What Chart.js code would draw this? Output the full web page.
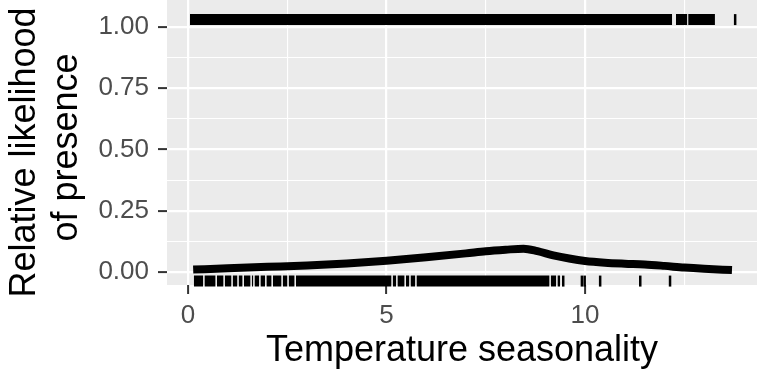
<!DOCTYPE html>
<html>
<head>
<meta charset="utf-8">
<script src="https://cdn.jsdelivr.net/npm/chart.js@4"></script>
<style>
  html, body { margin: 0; padding: 0; background: #ffffff; }
  #wrap { width: 757px; height: 383px; position: relative; }
</style>
</head>
<body>
<div id="wrap"><canvas id="myChart"></canvas></div>
<script>
// fitted response curve
const curveX = [0.13, 1, 2, 3, 4, 5, 6, 7, 7.5, 8, 8.45, 8.8, 9.2, 9.6, 10, 10.5, 11, 11.5, 12, 12.5, 13, 13.7];
const curveY = [0.010, 0.015, 0.021, 0.027, 0.035, 0.046, 0.060, 0.076, 0.085, 0.091, 0.095, 0.085, 0.068, 0.055, 0.045, 0.038, 0.034, 0.031, 0.025, 0.018, 0.013, 0.008];

// presence records (top rug) and background records (bottom rug)
const presenceRuns = [[0.05, 12.19], [12.29, 12.57], [12.60, 13.27]];
const presenceTicks = [13.78];
const backgroundRuns = [
    [0.15, 0.38], [0.42, 0.69], [0.73, 0.89], [0.93, 1.09], [1.13, 1.24], [1.28, 1.37],
    [1.41, 1.57], [1.61, 1.64], [1.68, 1.79], [1.83, 1.94], [1.98, 2.10], [2.14, 2.35],
    [2.39, 2.50], [2.54, 2.68], [2.72, 5.12], [5.16, 5.24], [5.28, 5.45], [5.49, 5.57],
    [5.61, 5.72], [5.76, 9.10], [9.14, 9.27], [9.31, 9.37]
];
const backgroundTicks = [9.45, 9.92, 9.99, 10.38, 11.39, 12.14];
const presenceLevel = 1.03;
const backgroundLevel = -0.037;

// axes
const xMajor = [0, 5, 10];
const xMajorLabels = ['0', '5', '10'];
const xMinor = [2.5, 7.5, 12.5];
const yMajor = [0, 0.25, 0.5, 0.75, 1];
const yMajorLabels = ['0.00', '0.25', '0.50', '0.75', '1.00'];
const yMinor = [0.125, 0.375, 0.625, 0.875];

function runsToData(runs, level) {
    return runs.flatMap(r => [{x: r[0], y: level}, {x: r[1], y: level}, {x: r[1], y: null}]);
}

function setTicks(majors, minors) {
    return function(scale) {
        scale.ticks = majors.concat(minors).sort((a, b) => a - b).map(v => ({value: v}));
    };
}

function noPadding(scale) {
    scale.paddingTop = 0;
    scale.paddingBottom = 0;
    scale.paddingLeft = 0;
    scale.paddingRight = 0;
}

const panelBg = {
    id: 'panelBg',
    beforeDraw(chart) {
        const {ctx, chartArea: a} = chart;
        ctx.save();
        ctx.fillStyle = '#ffffff';
        ctx.fillRect(0, 0, chart.width, chart.height);
        ctx.fillStyle = '#EBEBEB';
        ctx.fillRect(a.left, a.top, a.right - a.left, a.bottom - a.top);
        ctx.restore();
    }
};

const fontFam = "'Liberation Sans', Arial, sans-serif";

const ctx = document.getElementById('myChart');
new Chart(ctx, {
    type: 'scatter',
    data: {
        datasets: [
            {
                type: 'line',
                data: runsToData(presenceRuns, presenceLevel),
                borderColor: '#000',
                borderWidth: 11,
                borderCapStyle: 'butt',
                pointRadius: 0,
                spanGaps: false,
                clip: false
            },
            {
                data: presenceTicks.map(x => ({x: x, y: presenceLevel})),
                pointStyle: 'line',
                rotation: 90,
                radius: 5.5,
                borderWidth: 2.5,
                borderColor: '#000',
                clip: false
            },
            {
                type: 'line',
                data: runsToData(backgroundRuns, backgroundLevel),
                borderColor: '#000',
                borderWidth: 11,
                borderCapStyle: 'butt',
                pointRadius: 0,
                spanGaps: false,
                clip: false
            },
            {
                data: backgroundTicks.map(x => ({x: x, y: backgroundLevel})),
                pointStyle: 'line',
                rotation: 90,
                radius: 5.5,
                borderWidth: 2.5,
                borderColor: '#000',
                clip: false
            },
            {
                type: 'line',
                data: curveX.map((x, i) => ({x: x, y: curveY[i]})),
                borderColor: '#000',
                borderWidth: 8,
                borderCapStyle: 'butt',
                cubicInterpolationMode: 'monotone',
                pointRadius: 0
            }
        ]
    },
    options: {
        responsive: true,
        maintainAspectRatio: false,
        animation: false,
        layout: { padding: 0, autoPadding: false },
        plugins: {
            legend: { display: false },
            tooltip: { enabled: false }
        },
        scales: {
            x: {
                type: 'linear',
                min: -0.529,
                max: 14.33,
                afterBuildTicks: setTicks(xMajor, xMinor),
                afterFit: function(scale) { scale.height = 98; noPadding(scale); },
                border: { display: false },
                grid: {
                    color: '#ffffff',
                    lineWidth: c => xMajor.includes(c.tick.value) ? 2.2 : 1.1,
                    tickColor: c => xMajor.includes(c.tick.value) ? '#333333' : 'rgba(0,0,0,0)',
                    tickLength: 9,
                    tickWidth: 2
                },
                ticks: {
                    autoSkip: false,
                    maxRotation: 0,
                    padding: 6,
                    color: '#4D4D4D',
                    font: { family: fontFam, size: 26 },
                    callback: function(v) {
                        const i = xMajor.indexOf(v);
                        return i >= 0 ? xMajorLabels[i] : '';
                    }
                },
                title: {
                    display: true,
                    text: 'Temperature seasonality',
                    color: '#000',
                    font: { family: fontFam, size: 36, lineHeight: 1.2 },
                    padding: { top: 0, bottom: 10 }
                }
            },
            y: {
                type: 'linear',
                min: -0.053,
                max: 1.11,
                afterBuildTicks: setTicks(yMajor, yMinor),
                afterFit: function(scale) { scale.width = 167; noPadding(scale); },
                border: { display: false },
                grid: {
                    color: '#ffffff',
                    lineWidth: c => yMajor.includes(c.tick.value) ? 2.2 : 1.1,
                    tickColor: c => yMajor.includes(c.tick.value) ? '#333333' : 'rgba(0,0,0,0)',
                    tickLength: 9,
                    tickWidth: 2
                },
                ticks: {
                    autoSkip: false,
                    padding: 9,
                    color: '#4D4D4D',
                    font: { family: fontFam, size: 26 },
                    callback: function(v) {
                        const i = yMajor.indexOf(v);
                        return i >= 0 ? yMajorLabels[i] : '';
                    }
                },
                title: {
                    display: true,
                    text: ['Relative likelihood  ', 'of presence '],
                    color: '#000',
                    font: { family: fontFam, size: 36, lineHeight: 1.17 },
                    padding: { top: 4, bottom: 0 }
                }
            }
        }
    },
    plugins: [panelBg]
});
</script>
</body>
</html>
